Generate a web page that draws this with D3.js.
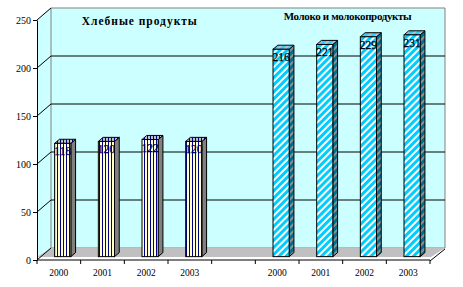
<!DOCTYPE html>
<html><head><meta charset="utf-8">
<script src="https://cdn.jsdelivr.net/npm/d3@7"></script>
<style>body{margin:0;background:#fff}svg{display:block}</style>
</head><body>
<svg id="c" width="463" height="287"></svg>
<script>
const years = ["2000","2001","2002","2003"];
const groupNames = ["Хлебные продукты","Молоко и молокопродукты"];
const breadValues = [118,120,122,120];
const milkValues = [216,221,229,231];
const yTicks = [0,50,100,150,200,250];

const svg = d3.select("#c");
const serif = "'Liberation Serif','Times New Roman',serif";
const slotLabels = [...years, "", ...years];
const x = d3.scaleBand().domain(d3.range(slotLabels.length)).range([37,430]).paddingInner(0).paddingOuter(0);
const y = d3.scaleLinear().domain([0,250]).range([260,20]);
const DX = 14, DY = -12;
const P = (px, v, z) => [px + DX*z, y(v) + DY*z];
const x0 = x.range()[0], x1 = x.range()[1];

// patterns
const defs = svg.append("defs");
function stripes(id, bg, fg, w, sw, rot) {
  const p = defs.append("pattern").attr("id", id).attr("patternUnits","userSpaceOnUse")
    .attr("width", w).attr("height", w);
  if (rot) p.attr("patternTransform", `rotate(${rot})`);
  p.append("rect").attr("width", w).attr("height", w).attr("fill", bg);
  p.append("rect").attr("width", sw).attr("height", w).attr("fill", fg);
}
stripes("bFront", "#FFFFCC", "#000080", 3, 1, 0);
stripes("bTop", "#C0C0C0", "#000080", 3, 1, 0);
stripes("mFront", "#00CCFF", "#FFFFFF", 5, 2, 45);
stripes("mTop", "#33CCFF", "#C0C0C0", 5, 2, 45);
stripes("mSide", "#006E8C", "#909090", 5, 2, 45);

const poly = pts => pts.map(p => p.join(",")).join(" ");
// side wall (left)
svg.append("polygon").attr("points", poly([P(x0,0,0),P(x0,250,0),P(x0,250,1),P(x0,0,1)]))
  .attr("fill","#CCFFFF");
// back wall
svg.append("polygon").attr("points", poly([P(x0,0,1),P(x0,250,1),P(x1+1,250,1),P(x1+1,0,1)]))
  .attr("fill","#CCFFFF").attr("stroke","#808080").attr("stroke-width",1);
// floor
svg.append("polygon").attr("points", poly([[x0,257],P(x0,0,1),P(x1+1,0,1),[x1+1,257]]))
  .attr("fill","#C0C0C0");
svg.append("line").attr("x1",P(x1,0,0)[0]).attr("y1",P(x1,0,0)[1]+1).attr("x2",P(x1+1,0,1)[0]).attr("y2",P(x1,0,1)[1]+1)
  .attr("stroke","#000");

// gridlines
yTicks.forEach(v => {
  const a = P(x0,v,0), b = P(x0,v,1), c = P(x1+1,v,1);
  svg.append("line").attr("x1",a[0]).attr("y1",a[1]).attr("x2",b[0]).attr("y2",b[1]).attr("stroke","#000");
  if (v > 0 && v < 250)
    svg.append("line").attr("x1",b[0]).attr("y1",b[1]).attr("x2",c[0]).attr("y2",c[1]).attr("stroke","#000");
});

// bars
const bw = x.bandwidth()*0.37;
const zf = 0.28, zb = 0.62;
const bars = [
  ...breadValues.map((v,i) => ({slot:i, v, s:"b"})),
  ...milkValues.map((v,i) => ({slot:i+5, v, s:"m"}))
];
bars.forEach(d => {
  const cx = x(d.slot) + x.bandwidth()/2;
  const l = cx - bw/2, r = cx + bw/2;
  const g = svg.append("g");
  const sideFill = d.s === "b" ? "#808080" : "url(#mSide)";
  g.append("polygon").attr("points", poly([P(r,d.v,zf),P(r,d.v,zb),P(r,0,zb),P(r,0,zf)]))
    .attr("fill", sideFill).attr("stroke","#000").attr("stroke-width",1);
  g.append("polygon").attr("points", poly([P(l,d.v,zf),P(r,d.v,zf),P(r,d.v,zb),P(l,d.v,zb)]))
    .attr("fill", d.s === "b" ? "url(#bTop)" : "url(#mTop)").attr("stroke","#000");
  const f0 = P(l,d.v,zf), f1 = P(r,0,zf);
  g.append("rect").attr("x",f0[0]).attr("y",f0[1]).attr("width",f1[0]-f0[0]).attr("height",f1[1]-f0[1])
    .attr("fill", d.s === "b" ? "url(#bFront)" : "url(#mFront)").attr("stroke","#000");
  const col = d.s === "b" ? "#000060" : "#000";
  g.append("text").attr("x",(f0[0]+f1[0])/2).attr("y",f0[1]+12)
    .attr("text-anchor","middle").attr("font-family",serif).attr("font-size",11.5)
    .attr("fill", col).attr("stroke", col).attr("stroke-width",0.25).text(d.v);
});

// y axis
const ya = svg.append("g").attr("transform",`translate(${x0},0)`)
  .call(d3.axisLeft(y).tickValues(yTicks).tickSize(4).tickSizeOuter(0).tickPadding(2));
ya.select(".domain").attr("stroke","#000");
ya.selectAll(".tick line").attr("stroke","#000");
ya.selectAll("text").attr("font-family",serif).attr("font-size",10).attr("fill","#000");

// x axis
svg.append("line").attr("x1",x0).attr("x2",x1).attr("y1",260).attr("y2",260).attr("stroke","#000");
[...x.domain().map(i => x(i)), x1].forEach(t =>
  svg.append("line").attr("x1",t).attr("x2",t).attr("y1",260).attr("y2",264).attr("stroke","#000"));
svg.append("g").selectAll("text").data(x.domain()).join("text")
  .attr("x", i => x(i) + x.bandwidth()/2).attr("y", 276)
  .attr("text-anchor","middle").attr("font-family",serif).attr("font-size",9.5).attr("fill","#000")
  .text(i => slotLabels[i]);

// group titles
const gx = [x(0) + 2*x.bandwidth() + 15, x(5) + 2*x.bandwidth() + 5];
const gy = [25, 20];
const gw = [115, 128];
const gs = [11.5, 11];
groupNames.forEach((n,i) => svg.append("text").attr("x",gx[i]).attr("y",gy[i])
  .attr("text-anchor","middle").attr("font-family",serif).attr("font-weight","bold")
  .attr("font-size",gs[i]).attr("textLength",gw[i]).attr("lengthAdjust","spacing")
  .attr("fill","#000").text(n));
</script>
</body></html>
